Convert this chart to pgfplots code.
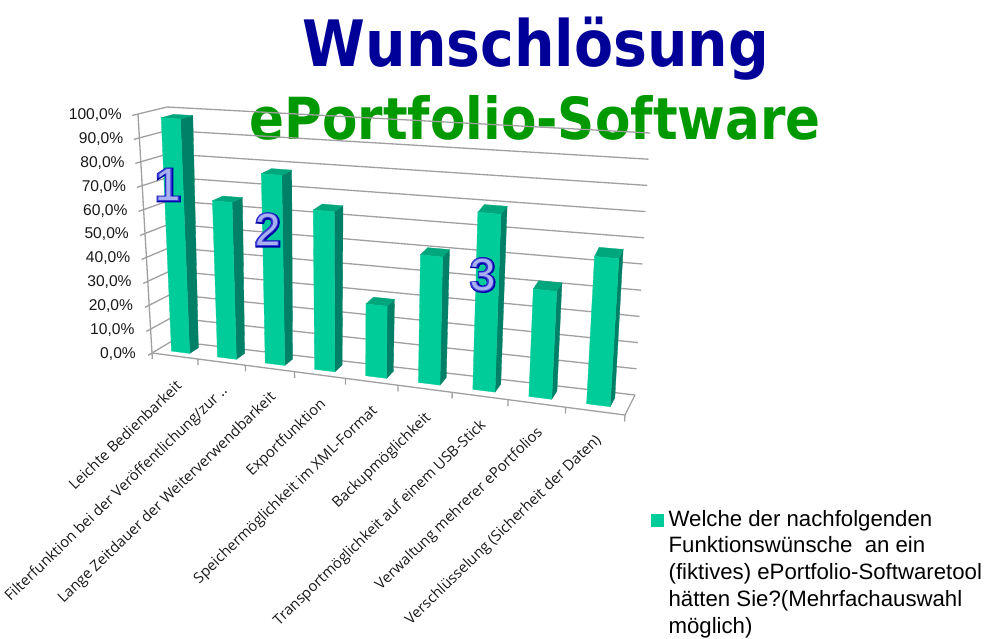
\documentclass[border=0pt]{standalone}
\usepackage{fontspec}
\usepackage{pgfplots}
\pgfplotsset{compat=1.18}
\setmainfont{Liberation Sans}
\newfontfamily\titlefont[FakeStretch=0.89]{DejaVu Sans}
\newfontfamily\catfont{Open Sans}
\newfontfamily\digitfat[FakeBold=4]{Liberation Sans Bold}
\newfontfamily\digitbold{Liberation Sans Bold}
\newfontfamily\digitthin{Liberation Sans}

\definecolor{barfront}{HTML}{00CC99}
\definecolor{barside}{HTML}{008066}
\definecolor{bartop}{HTML}{00A67C}
\definecolor{gridgray}{HTML}{A0A0A0}
\definecolor{titleblue}{HTML}{000099}
\definecolor{titlegreen}{HTML}{009900}
\definecolor{digitdark}{HTML}{0000A8}
\definecolor{digitmid}{HTML}{3A3AD8}
\definecolor{digitlight}{HTML}{A8B0F0}

% the 3D box of the chart, corners in picture pixels, perspective by interpolation
\tikzset{declare function={
  tfr(\u)=0.856*\u+0.144*\u*\u;
  projx(\t,\d,\z)=(1-\z)*((1-\d)*(152+473*\t)+\d*(172+463*\t))+\z*((1-\d)*(138+504*\t)+\d*(167+483*\t));
  projy(\t,\d,\z)=(1-\z)*((1-\d)*(353+62*\t)+\d*(341+54*\t))+\z*((1-\d)*(114+41*\t)+\d*(107+26*\t));
}}
\pgfplotsset{
  table/model/.style={
    row sep=\\,
    x expr={projx(tfr((\thisrow{i}+\thisrow{a})/9),\thisrow{d},\thisrow{v}/100)},
    y expr={projy(tfr((\thisrow{i}+\thisrow{a})/9),\thisrow{d},\thisrow{v}/100)},
  },
}

% one bar: category index, value in percent
\newcommand\drawbar[2]{
  \addplot[fill=barside,draw=barside,line width=0.3pt,forget plot] table[model]{i a d v\\ #1 .7 .3 0\\ #1 .7 .75 0\\ #1 .7 .75 #2\\ #1 .7 .3 #2\\} -- cycle;
  \addplot[fill=bartop,draw=bartop,line width=0.3pt,forget plot] table[model]{i a d v\\ #1 .3 .3 #2\\ #1 .7 .3 #2\\ #1 .7 .75 #2\\ #1 .3 .75 #2\\} -- cycle;
  \addplot[fill=barfront,draw=barfront,line width=0.3pt,forget plot] table[model]{i a d v\\ #1 .3 .3 0\\ #1 .7 .3 0\\ #1 .7 .3 #2\\ #1 .3 .3 #2\\} -- cycle;
}
\newcommand\catlabel[2]{
  \node[rotate=44,anchor=east,font=\catfont\fontsize{14.8}{15}\selectfont,text=black!90,inner sep=0pt]
    at (axis cs:{projx(tfr((#1+.5)/9),0,0)+4},{projy(tfr((#1+.5)/9),0,0)+27}) {#2};
}
\newcommand\wordart[3]{
  \node[font=\digitfat\fontsize{48}{48}\selectfont,text=digitdark,inner sep=0pt] at (axis cs:#1,#2) {#3};
  \node[font=\digitbold\fontsize{48}{48}\selectfont,text=digitmid,inner sep=0pt] at (axis cs:#1,#2) {#3};
  \node[font=\digitthin\fontsize{45}{45}\selectfont,text=digitlight,inner sep=0pt] at (axis cs:#1,#2) {#3};
}

\begin{document}
\begin{tikzpicture}[x=1pt,y=1pt]
\path[use as bounding box] (0,0) rectangle (988,638);

\node[font=\titlefont\bfseries\fontsize{64}{64}\selectfont,text=titleblue,anchor=base,inner sep=0pt] at (536,571) {Wunschlösung};
\node[font=\titlefont\bfseries\fontsize{58}{58}\selectfont,text=titlegreen,anchor=base,inner sep=0pt] at (535,498) {ePortfolio-Software};

\begin{axis}[
  at={(0,0)},anchor=south west,
  scale only axis,width=988pt,height=638pt,
  xmin=0,xmax=988,ymin=0,ymax=638,y dir=reverse,
  hide axis,clip=false,
  legend style={at={(axis cs:651,507)},anchor=north west,draw=none,fill=none,
    inner sep=0pt,font=\fontsize{22.2}{22}\selectfont,
    /tikz/every odd column/.append style={column sep=3pt},
    nodes={text height=15.8pt,text depth=5pt,inner ysep=3pt,inner xsep=2pt}},
  legend cell align=left,
]

% back wall and left wall grid
\pgfplotsinvokeforeach{0,10,...,100}{
  \addplot[gridgray,line width=1.3pt,forget plot] table[model]{i a d v\\ 0 0 0 #1\\ 0 0 1 #1\\ 9 0 1 #1\\};
  \addplot[gridgray,line width=1.3pt,forget plot] table[model]{i a d v\\ 0 0 -.2 #1\\ 0 0 0 #1\\};
  \node[anchor=east,inner sep=0pt,font=\fontsize{15.6}{16}\selectfont,text=black!90] at (axis cs:{projx(0,0,#1/100)-16},{projy(0,0,#1/100)+1}) {#1,0\%};
}
\addplot[gridgray,line width=1.3pt,forget plot] table[model]{i a d v\\ 0 0 0 0\\ 0 0 0 100\\};

% floor
\addplot[gridgray,line width=1.3pt,forget plot] table[model]{i a d v\\ 0 0 0 0\\ 9 0 0 0\\ 9 0 1 0\\};
\pgfplotsinvokeforeach{0,...,9}{
  \addplot[gridgray,line width=1.3pt,forget plot] table[model]{i a d v\\ #1 0 0 0\\ #1 0 0 -2.5\\};
}

\drawbar{0}{98}
\drawbar{1}{65}
\drawbar{2}{78}
\drawbar{3}{65}
\drawbar{4}{29}
\drawbar{5}{51}
\drawbar{6}{70}
\drawbar{7}{42}
\drawbar{8}{57}

\catlabel{0}{Leichte Bedienbarkeit}
\catlabel{1}{Filterfunktion bei der Veröffentlichung/zur ..}
\catlabel{2}{Lange Zeitdauer der Weiterverwendbarkeit}
\catlabel{3}{Exportfunktion}
\catlabel{4}{Speichermöglichkeit im XML-Format}
\catlabel{5}{Backupmöglichkeit}
\catlabel{6}{Transportmöglichkeit auf einem USB-Stick}
\catlabel{7}{Verwaltung mehrerer ePortfolios}
\catlabel{8}{Verschlüsselung (Sicherheit der Daten)}

\wordart{168}{185}{1}
\wordart{268}{230}{2}
\wordart{483}{275}{3}

\addlegendimage{legend image code/.code={\fill[barfront] (0pt,-6pt) rectangle (12pt,6pt);}}
\addlegendentry{Welche der nachfolgenden}
\addlegendimage{empty legend}
\addlegendentry{Funktionswünsche\ \ an ein}
\addlegendimage{empty legend}
\addlegendentry{(fiktives) ePortfolio-Softwaretool}
\addlegendimage{empty legend}
\addlegendentry{hätten Sie?(Mehrfachauswahl}
\addlegendimage{empty legend}
\addlegendentry{möglich)}
\end{axis}
\end{tikzpicture}
\end{document}
